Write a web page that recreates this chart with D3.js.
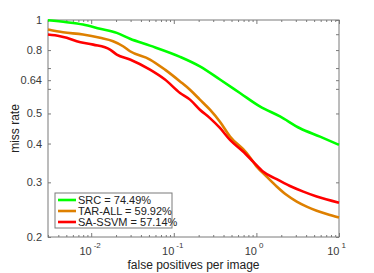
<!DOCTYPE html>
<html>
<head>
<meta charset="utf-8">
<script src="https://cdn.jsdelivr.net/npm/d3@7.9.0/dist/d3.min.js"></script>
<style>
  body { margin: 0; background: #fff; }
  svg { display: block; font-family: "Liberation Sans", Arial, sans-serif; }
  .axis path, .axis line { stroke: #7a7a7a; }
  .axis text { fill: #3a3a3a; font-size: 11px; }
</style>
</head>
<body>
<svg width="374" height="273"></svg>
<script>
// false positives per image (x) and miss rate (y)
const srcFppi = [0.003, 0.00505, 0.00796, 0.0128, 0.0204, 0.0295, 0.0515, 0.119, 0.207, 0.362, 0.632, 1.10, 1.93, 3.37, 5.89, 10];
const srcMiss = [0.998, 0.984, 0.967, 0.937, 0.909, 0.870, 0.827, 0.761, 0.709, 0.643, 0.582, 0.527, 0.489, 0.448, 0.421, 0.396];

const tarFppi = [0.003, 0.00456, 0.00796, 0.0128, 0.0184, 0.0243, 0.0295, 0.0515, 0.0782, 0.119, 0.157, 0.207, 0.274, 0.362, 0.479, 0.763, 1.008, 1.33, 1.76, 2.33, 3.08, 4.06, 5.37, 7.10, 10];
const tarMiss = [0.932, 0.913, 0.898, 0.876, 0.854, 0.823, 0.793, 0.746, 0.692, 0.634, 0.596, 0.554, 0.514, 0.470, 0.4215, 0.373, 0.337, 0.313, 0.291, 0.273, 0.260, 0.2505, 0.243, 0.237, 0.231];

const saFppi = [0.003, 0.00419, 0.00505, 0.00667, 0.0106, 0.0169, 0.0204, 0.0295, 0.0515, 0.0782, 0.119, 0.157, 0.207, 0.274, 0.362, 0.479, 0.690, 0.912, 1.20, 1.76, 2.55, 3.70, 5.37, 10];
const saMiss = [0.898, 0.887, 0.876, 0.854, 0.833, 0.803, 0.774, 0.746, 0.692, 0.643, 0.582, 0.554, 0.514, 0.483, 0.449, 0.411, 0.377, 0.350, 0.325, 0.307, 0.292, 0.280, 0.270, 0.258];

const seriesNames = ["SRC = 74.49%", "TAR-ALL = 59.92%", "SA-SSVM = 57.14%"];
const seriesColors = ["#00ff00", "#de8000", "#ff0000"];

const yTickValues = [1, 0.8, 0.64, 0.5, 0.4, 0.3, 0.2];
const yMinorValues = [0.9, 0.7, 0.6];
const xTickExps = [-2, -1, 0, 1];

const svg = d3.select("svg");
const margin = { left: 48, right: 35, top: 20, bottom: 36 };
const W = 374, H = 273;

const x = d3.scaleLog().domain([0.003, 10]).range([margin.left, W - margin.right]);
const y = d3.scaleLog().domain([0.2, 1]).range([H - margin.bottom, margin.top]).clamp(true);

// x minor ticks: 2..9 within each decade
const xMinor = [];
for (let e = -3; e <= 0; e++) {
  for (let m = 2; m <= 9; m++) {
    const v = m * Math.pow(10, e);
    if (v >= 0.003 && v <= 10) xMinor.push(v);
  }
}
const xMajor = xTickExps.map(e => Math.pow(10, e));

// frame
svg.append("rect")
  .attr("x", margin.left).attr("y", margin.top)
  .attr("width", W - margin.left - margin.right)
  .attr("height", H - margin.top - margin.bottom)
  .attr("fill", "none").attr("stroke", "#7a7a7a");

// bottom axis
svg.append("g").attr("class", "axis")
  .attr("transform", `translate(0,${H - margin.bottom})`)
  .call(d3.axisBottom(x).tickValues(xMinor).tickSize(-2).tickFormat(""))
  .call(g => g.select(".domain").remove());
const xb = svg.append("g").attr("class", "axis")
  .attr("transform", `translate(0,${H - margin.bottom})`)
  .call(d3.axisBottom(x).tickValues(xMajor).tickSize(-4).tickFormat(""))
  .call(g => g.select(".domain").remove());
xb.selectAll(".tick").append("text")
  .attr("y", 18).attr("text-anchor", "end").attr("x", 0)
  .text("10");
xb.selectAll(".tick").append("text")
  .attr("y", 11).attr("x", 2).attr("text-anchor", "start")
  .style("font-size", "8px")
  .text((d, i) => String(xTickExps[i]));

// top axis
svg.append("g").attr("class", "axis")
  .attr("transform", `translate(0,${margin.top})`)
  .call(d3.axisTop(x).tickValues(xMinor).tickSize(-2).tickFormat(""))
  .call(g => g.select(".domain").remove());
svg.append("g").attr("class", "axis")
  .attr("transform", `translate(0,${margin.top})`)
  .call(d3.axisTop(x).tickValues(xMajor).tickSize(-4).tickFormat(""))
  .call(g => g.select(".domain").remove());

// left axis
svg.append("g").attr("class", "axis")
  .attr("transform", `translate(${margin.left},0)`)
  .call(d3.axisLeft(y).tickValues(yTickValues.concat(yMinorValues)).tickSize(-3).tickPadding(6)
    .tickFormat(d => yMinorValues.includes(d) ? "" : String(d)))
  .call(g => g.select(".domain").remove());

// right axis
svg.append("g").attr("class", "axis")
  .attr("transform", `translate(${W - margin.right},0)`)
  .call(d3.axisRight(y).tickValues(yTickValues.concat(yMinorValues)).tickSize(-3).tickFormat(""))
  .call(g => g.select(".domain").remove());

// curves
const line = d3.line().x(d => x(d[0])).y(d => y(d[1])).curve(d3.curveMonotoneX);
const curves = [
  d3.zip(srcFppi, srcMiss),
  d3.zip(tarFppi, tarMiss),
  d3.zip(saFppi, saMiss)
];
curves.forEach((c, i) => {
  svg.append("path")
    .datum(c)
    .attr("d", line)
    .attr("fill", "none")
    .attr("stroke", seriesColors[i])
    .attr("stroke-width", 2.6)
    .attr("stroke-linejoin", "round");
});

// legend
const lg = svg.append("g").attr("transform", "translate(55,193)");
lg.append("rect").attr("width", 117).attr("height", 35)
  .attr("fill", "#fff").attr("stroke", "#7a7a7a");
seriesNames.forEach((name, i) => {
  const ly = 7 + i * 11;
  lg.append("line").attr("x1", 3).attr("x2", 21).attr("y1", ly).attr("y2", ly)
    .attr("stroke", seriesColors[i]).attr("stroke-width", 2.6);
  lg.append("text").attr("x", 23).attr("y", ly + 4)
    .attr("fill", "#222").style("font-size", "11px")
    .text(name);
});

// axis titles
svg.append("text")
  .attr("transform", `translate(19,${(margin.top + H - margin.bottom) / 2}) rotate(-90)`)
  .attr("text-anchor", "middle").attr("fill", "#222").style("font-size", "12px")
  .text("miss rate");
svg.append("text")
  .attr("x", (margin.left + W - margin.right) / 2).attr("y", 269)
  .attr("text-anchor", "middle").attr("fill", "#222").style("font-size", "12px")
  .text("false positives per image");
</script>
</body>
</html>
